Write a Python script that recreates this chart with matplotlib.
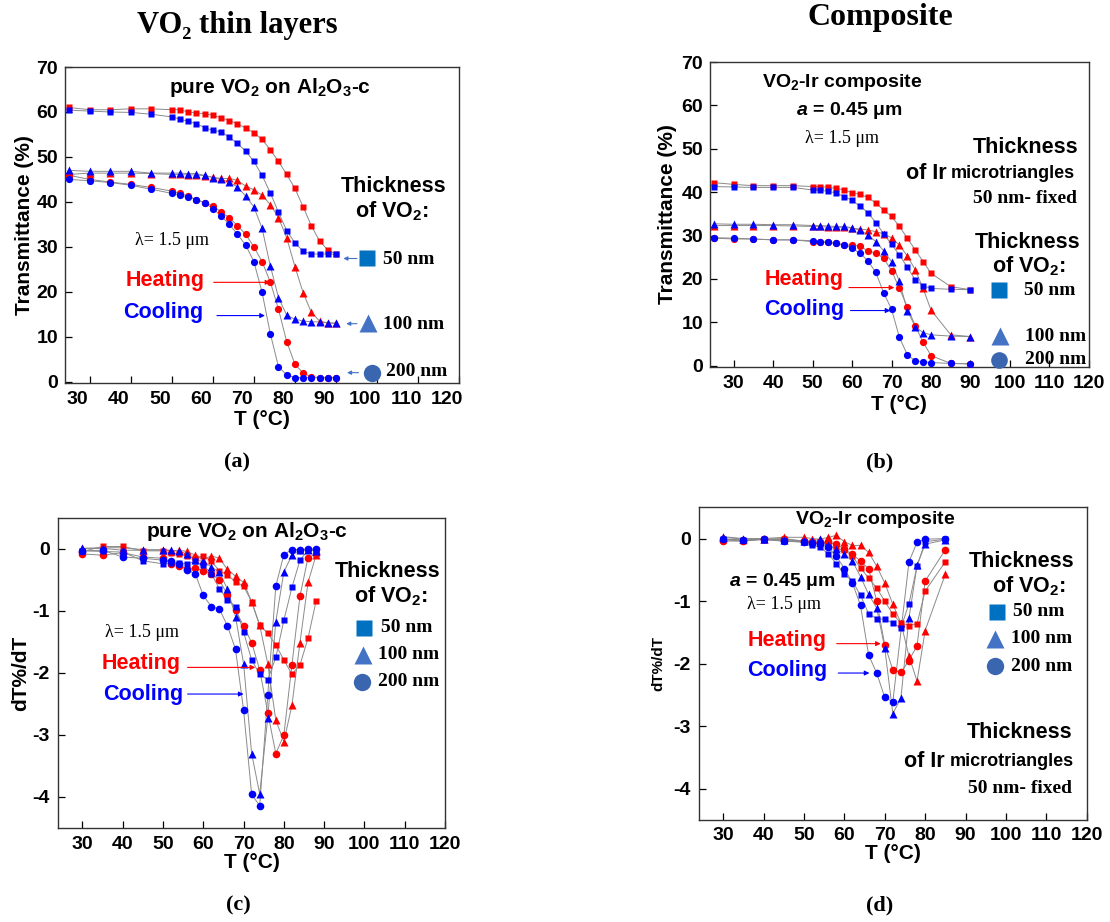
import matplotlib
matplotlib.use('Agg')
import matplotlib.pyplot as plt
from matplotlib.transforms import ScaledTranslation

plt.rcParams['font.family'] = ['Liberation Sans', 'DejaVu Sans']
plt.rcParams['mathtext.fontset'] = 'custom'
plt.rcParams['mathtext.rm'] = 'Liberation Sans:bold'
plt.rcParams['mathtext.bf'] = 'Liberation Sans:bold'
plt.rcParams['mathtext.it'] = 'Liberation Sans:italic:bold'
plt.rcParams['axes.unicode_minus'] = False

SERIF = ['Liberation Serif', 'DejaVu Serif']
RED = '#ff0000'
BLUE = '#0000ff'
LINE = '#8a8a8a'
KEY_SQ = '#0070c0'
KEY_TR = '#4472c4'
KEY_CI = '#3a66b0'

# ---------------- data: (a) transmittance, pure VO2 ----------------
xa = [25, 30, 35, 40, 45, 50, 52, 54, 56, 58, 60, 62, 64, 66, 68, 70, 72, 74, 76, 78, 80, 82, 84, 86, 88, 90]
a_50_heat = [61.0, 60.5, 60.5, 60.7, 60.7, 60.5, 60.5, 60.0, 59.8, 59.6, 59.3, 58.7, 58.1, 57.4, 56.4, 55.4,
             53.9, 51.6, 49.0, 46.1, 43.0, 38.9, 34.7, 31.3, 29.3, 28.4]
a_50_cool = [60.4, 60.2, 60.0, 59.9, 59.5, 58.9, 58.4, 57.9, 57.4, 56.5, 55.9, 55.6, 54.4, 53.0, 51.3, 49.0,
             45.9, 42.0, 37.7, 33.6, 30.9, 29.0, 28.4, 28.4, 28.4, 28.3]
a_100_heat = [46.1, 46.4, 46.4, 46.4, 46.3, 46.1, 46.1, 46.0, 46.0, 45.8, 45.5, 45.2, 45.2, 44.8, 43.5, 42.7,
              41.5, 39.4, 36.5, 32.0, 25.6, 19.8, 15.4, 13.5, 13.0, 13.0]
a_100_cool = [47.0, 46.8, 46.8, 46.8, 46.4, 46.4, 46.4, 46.3, 46.3, 45.9, 45.4, 45.0, 44.4, 43.3, 41.3, 38.9,
              34.1, 25.8, 18.7, 14.8, 13.9, 13.5, 13.3, 13.3, 13.1, 13.0]
a_200_heat = [45.9, 45.0, 44.4, 43.9, 43.2, 42.4, 41.9, 41.3, 40.5, 39.8, 39.1, 37.8, 36.5, 34.7, 32.8, 30.0,
              26.7, 22.2, 16.1, 8.9, 3.9, 1.9, 1.1, 0.9, 0.9, 0.9]
a_200_cool = [45.0, 44.7, 44.3, 43.7, 42.8, 41.9, 41.5, 41.1, 40.5, 39.8, 38.5, 36.9, 35.0, 32.8, 30.4, 26.7,
              19.9, 10.7, 3.3, 1.5, 0.9, 0.9, 0.9, 0.9, 0.9, 0.9]

# ---------------- data: (b) transmittance, VO2-Ir composite ----------------
xb = [25, 30, 35, 40, 45, 50, 52, 54, 56, 58, 60, 62, 64, 66, 68, 70, 72, 74, 76, 78, 80, 85, 90]
b_50_heat = [42.2, 41.8, 41.5, 41.5, 41.5, 41.3, 41.3, 41.1, 40.9, 40.5, 39.9, 39.5, 38.8, 37.5, 35.9, 34.4,
             32.1, 29.4, 26.7, 24.0, 21.3, 18.2, 17.5]
b_50_cool = [41.3, 41.2, 41.1, 41.1, 41.1, 40.5, 40.4, 40.2, 39.8, 39.0, 38.1, 36.8, 35.3, 33.0, 30.4, 28.0,
             25.5, 22.7, 19.8, 18.4, 17.8, 17.6, 17.5]
b_100_heat = [32.3, 32.3, 32.3, 32.3, 32.2, 32.1, 32.1, 31.9, 31.9, 31.9, 31.7, 31.5, 31.3, 30.9, 30.4, 29.5,
              27.8, 25.3, 22.1, 17.8, 12.8, 7.1, 6.7]
b_100_cool = [32.7, 32.6, 32.6, 32.5, 32.5, 32.3, 32.3, 32.2, 32.1, 32.1, 31.8, 31.2, 30.2, 28.6, 26.5, 24.0,
              19.4, 12.7, 9.0, 7.6, 7.1, 6.8, 6.7]
b_200_heat = [29.4, 29.2, 29.2, 29.0, 29.0, 28.6, 28.6, 28.4, 28.2, 27.8, 27.8, 27.5, 26.5, 25.9, 24.8, 21.9,
              17.8, 13.5, 9.2, 5.4, 2.3, 0.5, 0.4]
b_200_cool = [29.5, 29.4, 29.2, 29.0, 29.0, 28.8, 28.6, 28.4, 28.2, 27.8, 27.1, 25.9, 24.2, 21.5, 16.8, 13.0,
              6.5, 2.5, 1.1, 0.9, 0.7, 0.5, 0.4]

# ---------------- data: (c) dT%/dT, pure VO2 ----------------
xc = [30, 35, 40, 45, 50, 52, 54, 56, 58, 60, 62, 64, 66, 68, 70, 72, 74, 76, 78, 80, 82, 84, 86, 88]
c_50_heat = [-0.04, 0.04, 0.04, -0.03, -0.03, -0.07, -0.08, -0.11, -0.15, -0.11, -0.20, -0.35, -0.42, -0.53,
             -0.60, -0.85, -1.23, -1.36, -1.55, -1.79, -2.02, -1.87, -1.44, -0.84]
c_50_cool = [-0.03, -0.04, -0.05, -0.19, -0.24, -0.23, -0.22, -0.24, -0.20, -0.26, -0.40, -0.64, -0.82, -0.93,
             -1.34, -1.79, -2.02, -2.11, -1.75, -1.15, -0.62, -0.18, -0.02, -0.02]
c_100_heat = [0.01, 0.02, 0.02, -0.01, -0.02, -0.03, -0.02, -0.04, -0.10, -0.17, -0.11, -0.15, -0.33, -0.44,
              -0.54, -0.85, -1.23, -1.85, -2.76, -3.11, -2.52, -1.51, -0.54, -0.10]
c_100_cool = [0.01, 0.01, -0.02, -0.02, -0.01, -0.02, -0.04, -0.08, -0.18, -0.20, -0.29, -0.37, -0.65, -1.09,
              -1.85, -3.30, -3.95, -2.72, -1.17, -0.37, -0.10, -0.02, -0.01, -0.04]
c_200_heat = [-0.08, -0.10, -0.06, -0.13, -0.15, -0.24, -0.27, -0.33, -0.31, -0.35, -0.40, -0.50, -0.74, -0.99,
              -1.24, -1.51, -1.95, -2.64, -3.30, -3.00, -1.87, -0.76, -0.14, -0.08]
c_200_cool = [-0.03, -0.02, -0.13, -0.15, -0.18, -0.20, -0.25, -0.34, -0.40, -0.75, -0.93, -0.97, -1.24, -1.62,
              -2.60, -3.96, -4.14, -2.36, -0.60, -0.09, -0.01, -0.01, 0.0, 0.0]

# ---------------- data: (d) dT%/dT, VO2-Ir composite ----------------
xd = [30, 35, 40, 45, 50, 52, 54, 56, 58, 60, 62, 64, 66, 68, 70, 72, 74, 76, 78, 80, 85]
d_50_heat = [-0.02, -0.04, -0.01, -0.01, -0.05, -0.05, -0.06, -0.11, -0.16, -0.18, -0.28, -0.47, -0.63, -0.79,
             -1.00, -1.21, -1.35, -1.39, -1.36, -0.84, -0.37]
d_50_cool = [-0.01, -0.02, -0.02, -0.04, -0.06, -0.11, -0.14, -0.24, -0.40, -0.57, -0.68, -0.91, -1.20, -1.28,
             -1.29, -1.35, -1.43, -1.04, -0.44, -0.05, -0.01]
d_100_heat = [0.03, 0.0, 0.0, 0.02, 0.02, 0.0, -0.01, 0.02, 0.05, -0.05, -0.11, -0.11, -0.22, -0.44, -0.71,
              -1.05, -1.35, -1.88, -2.28, -1.47, -0.57]
d_100_cool = [0.02, -0.01, -0.01, -0.02, -0.04, -0.04, -0.01, -0.11, -0.17, -0.24, -0.36, -0.61, -0.89, -1.11,
              -1.75, -2.80, -2.55, -1.27, -0.43, -0.09, -0.02]
d_200_heat = [-0.04, -0.04, -0.01, 0.0, -0.04, -0.05, -0.06, -0.06, -0.09, -0.17, -0.25, -0.36, -0.48, -1.00,
              -1.70, -2.10, -2.14, -1.95, -1.71, -0.68, -0.18]
xd_200_cool = [30, 35, 40, 45, 50, 52, 54, 56, 58, 60, 62, 64, 66, 68, 70, 72, 76, 78, 80, 85]
d_200_cool = [-0.01, -0.02, -0.01, -0.04, -0.05, -0.07, -0.09, -0.14, -0.28, -0.48, -0.71, -1.07, -1.86, -2.15,
              -2.54, -2.61, -0.37, -0.06, -0.01, 0.0]

x_ticks = [30, 40, 50, 60, 70, 80, 90, 100, 110, 120]
y_ticks_T = [0, 10, 20, 30, 40, 50, 60, 70]
y_ticks_d = [0, -1, -2, -3, -4]

fig = plt.figure(figsize=(11.1, 9.22), dpi=100)
axa = fig.add_axes([0.0586, 0.5846, 0.3550, 0.3427])
axb = fig.add_axes([0.6396, 0.6023, 0.3414, 0.3308])
axc = fig.add_axes([0.0525, 0.1020, 0.3484, 0.3362])
axd = fig.add_axes([0.6297, 0.1106, 0.3493, 0.3392])


def style(ax, ylim, yticks, xpad, ypad):
    ax.set_xlim(24, 120)
    ax.set_ylim(*ylim)
    ax.set_xticks(x_ticks)
    ax.set_yticks(yticks)
    ax.tick_params(axis='x', direction='in', length=5, width=0.9, labelsize=14, pad=xpad,
                   top=False)
    ax.tick_params(axis='y', direction='in', length=5, width=0.9, labelsize=14, pad=ypad,
                   right=False)
    for lab in ax.get_xticklabels() + ax.get_yticklabels():
        lab.set_fontweight('bold')
    for s in ax.spines.values():
        s.set_linewidth(1.0)
        s.set_color('#333333')


def series(ax, x, y, marker, color, ms):
    ax.plot(x, y, color=LINE, lw=0.7, zorder=2)
    ax.plot(x, y, ls='none', marker=marker, color=color, ms=ms, mec='none', zorder=3)


def arrow(ax, x0, x1, y0, y1, color, ms=7):
    ax.annotate('', xy=(x1, y1), xytext=(x0, y0),
                arrowprops=dict(arrowstyle='-|>', color=color, lw=0.8, mutation_scale=ms,
                                shrinkA=0, shrinkB=0), zorder=4)


def txt(ax, x, y, s, size=15.5, color='black', ha='center', family=None, weight='bold', style='normal'):
    kw = {}
    if family is not None:
        kw['family'] = family
    ax.text(x, y, s, fontsize=size, color=color, ha=ha, va='center', fontweight=weight,
            fontstyle=style, zorder=5, **kw)


def key(ax, x, y, marker, color, ms):
    ax.plot([x], [y], ls='none', marker=marker, color=color, ms=ms, mec='none', zorder=5,
            clip_on=False)


# ---------------- panel (a) ----------------
style(axa, (-0.3, 70), y_ticks_T, 6, 5)
series(axa, xa, a_50_heat, 's', RED, 4.6)
series(axa, xa, a_100_heat, '^', RED, 5.3)
series(axa, xa, a_200_heat, 'o', RED, 5.2)
series(axa, xa, a_50_cool, 's', BLUE, 4.6)
series(axa, xa, a_100_cool, '^', BLUE, 5.3)
series(axa, xa, a_200_cool, 'o', BLUE, 5.2)
axa.set_xlabel('T (°C)', fontsize=15, fontweight='bold', labelpad=1)
axa.set_ylabel('Transmittance (%)', fontsize=15, fontweight='bold', labelpad=2)
for lab in axa.get_xticklabels():
    lab.set_transform(lab.get_transform() + ScaledTranslation(-0.12, 0, fig.dpi_scale_trans))

txt(axa, 74, 65.5, 'pure VO$_\\mathbf{2}$ on Al$_\\mathbf{2}$O$_\\mathbf{3}$-c', 15)
txt(axa, 104.0, 43.5, 'Thickness', 15.5)
txt(axa, 103.6, 38.0, 'of VO$_\\mathbf{2}$:', 15.5)
key(axa, 97.5, 27.4, 's', KEY_SQ, 11.5)
key(axa, 97.8, 13.0, '^', KEY_TR, 13)
key(axa, 98.7, 2.0, 'o', KEY_CI, 12.5)
txt(axa, 101.5, 27.2, '50 nm', 14, ha='left', family=SERIF)
txt(axa, 101.5, 12.8, '100 nm', 14, ha='left', family=SERIF)
txt(axa, 102.1, 2.2, '200 nm', 14, ha='left', family=SERIF)
arrow(axa, 95.1, 91.8, 27.4, 27.4, KEY_TR, 6)
arrow(axa, 95.1, 92.5, 12.9, 12.9, KEY_TR, 6)
arrow(axa, 95.5, 92.7, 2.0, 2.0, KEY_TR, 6)
txt(axa, 50.0, 31.5, 'λ= 1.5 μm', 13, family=SERIF, weight='normal')
txt(axa, 48.4, 22.4, 'Heating', 15.5, color=RED)
txt(axa, 48.0, 15.4, 'Cooling', 15.5, color=BLUE)
arrow(axa, 60.2, 74.0, 22.1, 22.1, RED)
arrow(axa, 61.0, 72.7, 14.7, 14.7, BLUE)

# ---------------- panel (b) ----------------
style(axb, (-0.25, 70.1), y_ticks_T, 6, 5)
series(axb, xb, b_50_heat, 's', RED, 4.6)
series(axb, xb, b_100_heat, '^', RED, 5.3)
series(axb, xb, b_200_heat, 'o', RED, 5.2)
series(axb, xb, b_50_cool, 's', BLUE, 4.6)
series(axb, xb, b_100_cool, '^', BLUE, 5.3)
series(axb, xb, b_200_cool, 'o', BLUE, 5.2)
axb.set_xlabel('T (°C)', fontsize=15, fontweight='bold', labelpad=2)
axb.set_ylabel('Transmittance (%)', fontsize=15, fontweight='bold', labelpad=3)

txt(axb, 57.5, 65.3, 'VO$_\\mathbf{2}$-Ir composite', 14)
txt(axb, 59.2, 58.8, '$a$ = 0.45 μm', 14)
txt(axb, 57.5, 52.3, 'λ= 1.5 μm', 13, family=SERIF, weight='normal')
txt(axb, 117.3, 50.2, 'Thickness', 15.5, ha='right')
txt(axb, 84.0, 44.4, 'of Ir', 15.5, ha='right')
txt(axb, 85.0, 44.2, 'microtriangles', 13, ha='left')
txt(axb, 117.0, 38.6, '50 nm- fixed', 14, ha='right', family=SERIF)
txt(axb, 104.4, 28.4, 'Thickness', 15.5)
txt(axb, 104.8, 23.0, 'of VO$_\\mathbf{2}$:', 15.5)
key(axb, 97.2, 17.5, 's', KEY_SQ, 11)
key(axb, 97.5, 6.8, '^', KEY_TR, 12.5)
key(axb, 97.2, 1.3, 'o', KEY_CI, 12)
txt(axb, 103.5, 17.3, '50 nm', 14, ha='left', family=SERIF)
txt(axb, 103.8, 6.6, '100 nm', 14, ha='left', family=SERIF)
txt(axb, 103.8, 1.3, '200 nm', 14, ha='left', family=SERIF)
txt(axb, 47.8, 19.8, 'Heating', 15.5, color=RED)
txt(axb, 47.8, 13.0, 'Cooling', 15.5, color=BLUE)
arrow(axb, 59.2, 70.7, 18.0, 18.0, RED)
arrow(axb, 59.6, 69.7, 12.7, 12.7, BLUE)

# ---------------- panel (c) ----------------
style(axc, (-4.5, 0.5), y_ticks_d, 6, 6)
series(axc, xc, c_50_heat, 's', RED, 5.0)
series(axc, xc, c_100_heat, '^', RED, 5.6)
series(axc, xc, c_200_heat, 'o', RED, 5.5)
series(axc, xc, c_50_cool, 's', BLUE, 5.0)
series(axc, xc, c_100_cool, '^', BLUE, 5.6)
series(axc, xc, c_200_cool, 'o', BLUE, 5.5)
axc.set_xlabel('T (°C)', fontsize=15, fontweight='bold', labelpad=0)
axc.set_ylabel('dT%/dT', fontsize=15, fontweight='bold', labelpad=2)

txt(axc, 70.8, 0.28, 'pure VO$_\\mathbf{2}$ on Al$_\\mathbf{2}$O$_\\mathbf{3}$-c', 15)
txt(axc, 105.7, -0.37, 'Thickness', 15.5)
txt(axc, 106.5, -0.76, 'of VO$_\\mathbf{2}$:', 15.5)
key(axc, 99.9, -1.27, 's', KEY_SQ, 11)
key(axc, 99.7, -1.71, '^', KEY_TR, 13)
key(axc, 99.5, -2.14, 'o', KEY_CI, 12.5)
txt(axc, 104.0, -1.27, '50 nm', 14, ha='left', family=SERIF)
txt(axc, 103.4, -1.71, '100 nm', 14, ha='left', family=SERIF)
txt(axc, 103.4, -2.14, '200 nm', 14, ha='left', family=SERIF)
txt(axc, 44.9, -1.34, 'λ= 1.5 μm', 13, family=SERIF, weight='normal')
txt(axc, 44.5, -1.85, 'Heating', 15.5, color=RED)
txt(axc, 45.1, -2.34, 'Cooling', 15.5, color=BLUE)
arrow(axc, 56.1, 72.9, -1.91, -1.91, RED)
arrow(axc, 56.1, 70.0, -2.34, -2.34, BLUE)

# ---------------- panel (d) ----------------
style(axd, (-4.5, 0.5), y_ticks_d, 5, 6)
series(axd, xd, d_50_heat, 's', RED, 5.0)
series(axd, xd, d_100_heat, '^', RED, 5.6)
series(axd, xd, d_200_heat, 'o', RED, 5.5)
series(axd, xd, d_50_cool, 's', BLUE, 5.0)
series(axd, xd, d_100_cool, '^', BLUE, 5.6)
series(axd, xd_200_cool, d_200_cool, 'o', BLUE, 5.5)
axd.set_xlabel('T (°C)', fontsize=15, fontweight='bold', labelpad=0)
axd.set_ylabel('dT%/dT', fontsize=11, fontweight='bold', labelpad=6)

txt(axd, 67.6, 0.30, 'VO$_\\mathbf{2}$-Ir composite', 14)
txt(axd, 44.5, -0.68, '$a$ = 0.45 μm', 14)
txt(axd, 45.0, -1.05, 'λ= 1.5 μm', 13, family=SERIF, weight='normal')
txt(axd, 45.9, -1.63, 'Heating', 15.5, color=RED)
txt(axd, 45.9, -2.11, 'Cooling', 15.5, color=BLUE)
arrow(axd, 58.1, 69.0, -1.68, -1.68, RED)
arrow(axd, 58.5, 66.2, -2.15, -2.15, BLUE)
txt(axd, 103.9, -0.37, 'Thickness', 15.5)
txt(axd, 105.6, -0.76, 'of VO$_\\mathbf{2}$:', 15.5)
key(axd, 97.7, -1.17, 's', KEY_SQ, 11)
key(axd, 97.3, -1.60, '^', KEY_TR, 13)
key(axd, 97.3, -2.04, 'o', KEY_CI, 12.5)
txt(axd, 101.8, -1.17, '50 nm', 14, ha='left', family=SERIF)
txt(axd, 101.3, -1.60, '100 nm', 14, ha='left', family=SERIF)
txt(axd, 101.3, -2.04, '200 nm', 14, ha='left', family=SERIF)
txt(axd, 103.5, -3.10, 'Thickness', 15.5)
txt(axd, 84.9, -3.56, 'of Ir', 15.5, ha='right')
txt(axd, 86.0, -3.56, 'microtriangles', 13, ha='left')
txt(axd, 103.5, -3.99, '50 nm- fixed', 14, family=SERIF)

# ---------------- figure titles and captions ----------------
fig.text(237 / 1110, 1 - 25 / 922, 'VO₂ thin layers', fontsize=22, fontweight='bold',
         family=SERIF, ha='center', va='center')
fig.text(880 / 1110, 1 - 18 / 922, 'Composite', fontsize=23, fontweight='bold',
         family=SERIF, ha='center', va='center')
for label, xp, yp in [('(a)', 237, 462), ('(b)', 880, 462), ('(c)', 238, 905), ('(d)', 880, 905)]:
    fig.text(xp / 1110, 1 - yp / 922, label, fontsize=16, fontweight='bold', family=SERIF,
             ha='center', va='center')

fig.savefig('out.png', dpi=100)
